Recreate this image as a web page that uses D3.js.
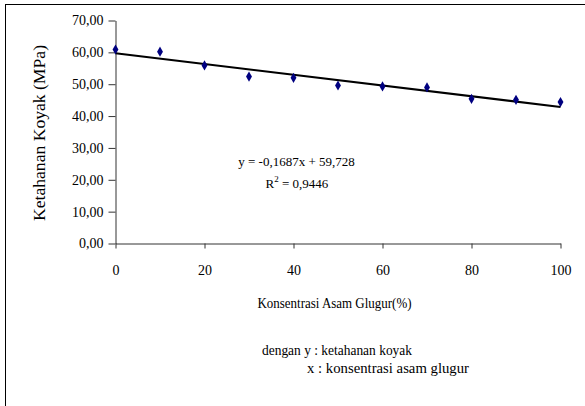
<!DOCTYPE html>
<html>
<head>
<meta charset="utf-8">
<script src="https://cdn.jsdelivr.net/npm/d3@7"></script>
<style>
  html, body { margin: 0; padding: 0; background: #fff; }
  svg { display: block; }
  text { font-family: "Liberation Serif", "Times New Roman", serif; fill: #000; }
</style>
</head>
<body>
<svg id="chart" width="585" height="406"></svg>
<script>
// ---- data ----
const konsentrasi = [0, 10, 20, 30, 40, 50, 60, 70, 80, 90, 100];
const ketahanan = [60.9, 60.2, 55.9, 52.4, 52.0, 49.6, 49.3, 49.0, 45.4, 45.1, 44.4];
const xTicks = [0, 20, 40, 60, 80, 100];
const yTicks = [0, 10, 20, 30, 40, 50, 60, 70];
const trendSlope = -0.1687;
const trendIntercept = 59.728;
const rSquared = "0,9446";
const eqLabel = "y = -0,1687x + 59,728";
const xTitle = "Konsentrasi Asam Glugur(%)";
const yTitle = "Ketahanan Koyak (MPa)";
const noteLines = ["dengan y : ketahanan koyak", "x : konsentrasi asam glugur"];

const svg = d3.select("#chart");
const fmt = d => d.toFixed(2).replace(".", ",");

// frame
svg.append("rect").attr("x", 5.5).attr("y", 4.5).attr("width", 600).attr("height", 420)
  .attr("fill", "none").attr("stroke", "#000").attr("stroke-width", 1);

const x = d3.scaleLinear().domain([0, 100]).range([115.5, 560.5]);
const y = d3.scaleLinear().domain([0, 70]).range([243.5, 20.5]);

// y axis
const yAxis = svg.append("g").attr("transform", `translate(${x(0)},0)`)
  .call(d3.axisLeft(y).tickValues(yTicks).tickFormat(fmt).tickSize(7).tickPadding(5).tickSizeOuter(0));
// x axis
const xAxis = svg.append("g").attr("transform", `translate(0,${y(0)})`)
  .call(d3.axisBottom(x).tickValues(xTicks).tickSize(5).tickPadding(17).tickSizeOuter(0));

[yAxis, xAxis].forEach(g => {
  g.attr("font-family", null).attr("font-size", null);
  g.select(".domain").attr("stroke", "#333").attr("stroke-width", 1);
  g.selectAll(".tick line").attr("stroke", "#333");
  g.selectAll("text").style("font-family", '"Liberation Serif", serif').style("font-size", "14px").attr("fill", "#000");
});

// trend line
const line = d3.line().x(d => x(d)).y(d => y(trendIntercept + trendSlope * d));
svg.append("path").datum([0, 100]).attr("d", line)
  .attr("fill", "none").attr("stroke", "#000").attr("stroke-width", 2);

// markers
const diamond = d3.symbol().type(d3.symbolDiamond).size(30);
svg.selectAll(".pt").data(konsentrasi).enter().append("path")
  .attr("class", "pt")
  .attr("transform", (d, i) => `translate(${x(d)},${y(ketahanan[i])})`)
  .attr("d", diamond)
  .attr("fill", "#000080");

// equation
svg.append("text").attr("x", 296.5).attr("y", 166).attr("text-anchor", "middle")
  .style("font-size", "13px").text(eqLabel);
const r2 = svg.append("text").attr("x", 297).attr("y", 188).attr("text-anchor", "middle")
  .style("font-size", "13px");
r2.append("tspan").text("R");
r2.append("tspan").attr("dy", -6).style("font-size", "9px").text("2");
r2.append("tspan").attr("dy", 6).text(" = " + rSquared);

// axis titles
svg.append("text").attr("x", 334.5).attr("y", 308).attr("text-anchor", "middle")
  .style("font-size", "14px").attr("textLength", 154).attr("lengthAdjust", "spacingAndGlyphs").text(xTitle);
svg.append("text").attr("transform", "translate(45,133) rotate(-90)").attr("text-anchor", "middle")
  .style("font-size", "17px").attr("textLength", 176).attr("lengthAdjust", "spacingAndGlyphs").text(yTitle);

// note
svg.append("text").attr("x", 262).attr("y", 355).style("font-size", "14px")
  .attr("textLength", 150).attr("lengthAdjust", "spacingAndGlyphs").text(noteLines[0]);
svg.append("text").attr("x", 307).attr("y", 373).style("font-size", "14px")
  .attr("textLength", 162).attr("lengthAdjust", "spacingAndGlyphs").text(noteLines[1]);
</script>
</body>
</html>
